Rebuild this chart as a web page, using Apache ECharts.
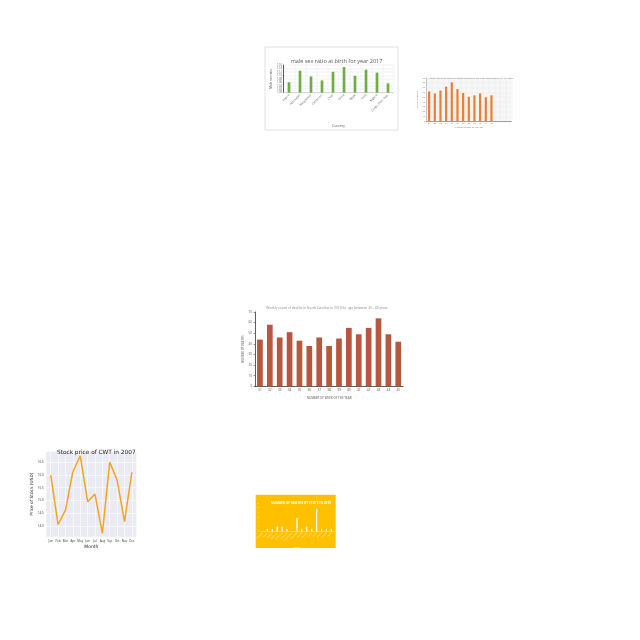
<!DOCTYPE html>
<html>
<head>
<meta charset="utf-8">
<script src="https://cdn.jsdelivr.net/npm/echarts@6/dist/echarts.min.js"></script>
<style>
  html, body { margin: 0; padding: 0; background: #fff; }
  #main { width: 640px; height: 640px; }
</style>
</head>
<body>
<div id="main"></div>
<script>
    // male sex ratio (top left panel)
    var sexCountries = ['Angola', 'Azerbaijan', 'Bangladesh', 'Cameroon', 'Chad', 'China', 'Egypt', 'India', 'Nigeria', 'Congo, Dem. Rep.'];
    var sexRatio = [1.060, 1.127, 1.094, 1.071, 1.121, 1.148, 1.098, 1.133, 1.116, 1.054];

    // weekly deaths, age 15 - 24 (top right panel)
    var youngWeeks = ['31', '32', '33', '34', '35', '36', '37', '38', '39', '40', '41', '42', '', '', ''];
    var youngDeaths = [62, 58, 64, 72, 81, 67, 59, 51, 54, 58, 50, 54];

    // weekly deaths, age 25 - 44 (middle panel)
    var weeks = ['31', '32', '33', '34', '35', '36', '37', '38', '39', '40', '41', '42', '43', '44', '45'];
    var deaths = [44, 58, 46, 51, 43, 38, 46, 38, 45, 55, 49, 55, 64, 49, 42];

    // stock price (bottom left panel)
    var months = ['Jan', 'Feb', 'Mar', 'Apr', 'May', 'Jun', 'Jul', 'Aug', 'Sep', 'Oct', 'Nov', 'Dec'];
    var price = [16.0, 14.05, 14.62, 16.13, 16.76, 14.95, 15.25, 13.70, 16.51, 15.80, 14.16, 16.11];
    var priceTicks = [14.0, 14.5, 15.0, 15.5, 16.0, 16.5];

    // yellow panel
    var groups = ['Alabama', 'Alaska', 'Arizona', 'Arkansas', 'California', 'Colorado', 'Connecticut', 'Delaware', 'Florida', 'Georgia', 'Hawaii', 'Idaho', 'Illinois', 'Indiana', 'Iowa'];
    var groupDeaths = [0, 1, 1, 2, 2, 1, 0, 5.6, 1, 2, 1, 9.6, 1, 1, 1];

    var myChart = echarts.init(document.getElementById('main'));

    var monthIdx = months.map(function (m, i) { return i; });
    var pricePoints = price.map(function (v, i) { return [i, v]; });

    option = {
        animation: false,
        backgroundColor: '#fff',
        textStyle: { fontFamily: 'Open Sans' },
        graphic: [
            { type: 'rect', z: -10, shape: { x: 265, y: 47, width: 133, height: 83 },
              style: { fill: '#fff', stroke: '#d9d9d9', lineWidth: 0.8 } },
            { type: 'rect', z: -10, shape: { x: 255.7, y: 494.7, width: 80, height: 53.3 },
              style: { fill: '#ffc000' } }
        ],
        title: [
            { text: 'male sex ratio at birth for year 2017', left: 331.5, top: 53, textAlign: 'center',
              textStyle: { fontSize: 5.5, fontWeight: 'normal', color: '#595959' } },
            { text: 'Weekly count of deaths in South Carolina in 2019 for age between 15 - 24 years', left: 466, top: 72, textAlign: 'center',
              textStyle: { fontSize: 2.3, fontWeight: 'normal', color: '#888' } },
            { text: 'Weekly count of deaths in South Carolina in 2019 for age between 25 - 44 years', left: 322, top: 302, textAlign: 'center',
              textStyle: { fontSize: 3.3, fontWeight: 'normal', color: '#888' } },
            { text: 'Stock price of CWT in 2007', left: 91.3, top: 444, textAlign: 'center',
              textStyle: { fontSize: 5.8, fontWeight: 'normal', color: '#222', fontFamily: 'DejaVu Sans' } },
            { text: 'NUMBER OF DEATHS BY STATE IN 2019', left: 296, top: 497, textAlign: 'center',
              textStyle: { fontSize: 3.2, fontWeight: 'bold', color: '#fff' } }
        ],
        grid: [
            { left: 283.5, top: 65, width: 110, height: 27.7 },
            { left: 426.3, top: 78, width: 85, height: 43.3, show: true, backgroundColor: '#f7f7f7', borderWidth: 0 },
            { left: 255, top: 312, width: 148.2, height: 74.3 },
            { left: 46.3, top: 451.7, width: 90, height: 85, show: true, backgroundColor: '#eaeaf2', borderWidth: 0 },
            { left: 260, top: 503, width: 73.8, height: 28.3 }
        ],
        xAxis: [
            { gridIndex: 0, type: 'category', data: sexCountries,
              name: 'Country', nameLocation: 'middle', nameGap: 31,
              nameTextStyle: { fontSize: 3.5, color: '#595959' },
              axisLine: { lineStyle: { color: '#bfbfbf', width: 0.6 } },
              axisTick: { show: false },
              splitLine: { show: true, lineStyle: { color: '#e4e4e4', width: 0.4 } },
              axisLabel: { rotate: 45, fontSize: 2.8, color: '#595959', margin: 2, interval: 0 } },
            { gridIndex: 1, type: 'category', data: youngWeeks,
              name: 'Number of week of the year', nameLocation: 'middle', nameGap: 5,
              nameTextStyle: { fontSize: 2.2, color: '#777' },
              axisLine: { lineStyle: { color: '#666', width: 0.6 } },
              axisTick: { show: false },
              splitLine: { show: true, lineStyle: { color: '#e2e2e2', width: 0.4 } },
              axisLabel: { fontSize: 2, color: '#777', margin: 1.5, interval: 0 } },
            { gridIndex: 2, type: 'category', data: weeks,
              name: 'NUMBER OF WEEK OF THE YEAR', nameLocation: 'middle', nameGap: 10,
              nameTextStyle: { fontSize: 3, color: '#555' },
              axisLine: { lineStyle: { color: '#333', width: 0.8 } },
              axisTick: { show: false },
              axisLabel: { fontSize: 3.2, color: '#555', margin: 2.5, interval: 0 } },
            { gridIndex: 3, type: 'value', min: -0.6, max: 11.6,
              name: 'Month', nameLocation: 'middle', nameGap: 8,
              nameTextStyle: { fontSize: 4.5, color: '#222', fontFamily: 'DejaVu Sans' },
              axisLine: { show: false },
              axisTick: { show: false, customValues: monthIdx },
              splitLine: { show: true, lineStyle: { color: '#fff', width: 0.6 } },
              axisLabel: { customValues: monthIdx, fontSize: 3, color: '#333', margin: 2.5,
                           formatter: function (v) { return months[Math.round(v)]; } } },
            { gridIndex: 4, type: 'category', data: groups,
              name: 'State', nameLocation: 'middle', nameGap: 14,
              nameTextStyle: { fontSize: 2.5, color: '#fff' },
              axisLine: { lineStyle: { color: '#fff5cc', width: 0.5 } },
              axisTick: { show: false },
              axisLabel: { rotate: 45, fontSize: 2, color: '#fff2b3', margin: 1.5, interval: 0 } }
        ],
        yAxis: [
            { gridIndex: 0, type: 'value', min: 1.0, max: 1.16, interval: 0.02,
              name: 'Male sex ratio', nameLocation: 'middle', nameGap: 10,
              nameTextStyle: { fontSize: 3, color: '#595959' },
              axisLine: { show: true, lineStyle: { color: '#333', width: 0.8 } },
              axisTick: { show: false },
              splitLine: { lineStyle: { color: '#d9d9d9', width: 0.4 } },
              axisLabel: { fontSize: 2.6, color: '#595959', margin: 1.5,
                           formatter: function (v) { return v.toFixed(2); } } },
            { gridIndex: 1, type: 'value', min: 0, max: 90, interval: 10,
              name: 'Number of deaths', nameLocation: 'middle', nameGap: 6,
              nameTextStyle: { fontSize: 2.2, color: '#777' },
              axisLine: { show: true, lineStyle: { color: '#999', width: 0.5 } },
              axisTick: { show: false },
              splitLine: { lineStyle: { color: '#e2e2e2', width: 0.4 } },
              axisLabel: { fontSize: 2, color: '#777', margin: 1.5 } },
            { gridIndex: 2, type: 'value', min: 0, max: 70, interval: 10,
              name: 'NUMBER OF DEATHS', nameLocation: 'middle', nameGap: 10,
              nameTextStyle: { fontSize: 2.8, color: '#555' },
              axisLine: { show: true, lineStyle: { color: '#333', width: 0.8 } },
              axisTick: { show: true, length: 1.5, lineStyle: { color: '#333', width: 0.5 } },
              splitLine: { show: false },
              axisLabel: { fontSize: 3, color: '#555', margin: 3 } },
            { gridIndex: 3, type: 'value', min: 13.57, max: 16.92,
              name: 'Price of Stock (USD)', nameLocation: 'middle', nameGap: 11,
              nameTextStyle: { fontSize: 4.3, color: '#222', fontFamily: 'DejaVu Sans' },
              axisLine: { show: false },
              axisTick: { show: false, customValues: priceTicks },
              splitLine: { show: true, lineStyle: { color: '#fff', width: 0.6 } },
              axisLabel: { customValues: priceTicks, fontSize: 3, color: '#333', margin: 2.5,
                           formatter: function (v) { return v.toFixed(1); } } },
            { gridIndex: 4, type: 'value', min: 0, max: 12, interval: 2,
              name: 'Number of deaths', nameLocation: 'middle', nameGap: 3,
              nameTextStyle: { fontSize: 2, color: '#fff2b3' },
              axisLine: { show: false },
              axisTick: { show: false },
              splitLine: { show: false },
              axisLabel: { fontSize: 1.8, color: '#fff2b3', margin: 1 } }
        ],
        series: [
            { type: 'bar', xAxisIndex: 0, yAxisIndex: 0, data: sexRatio, barWidth: 2.7,
              itemStyle: { color: '#70ad47' } },
            { type: 'bar', xAxisIndex: 1, yAxisIndex: 1, data: youngDeaths, barWidth: 2.2,
              itemStyle: { color: '#ed7d31' } },
            { type: 'bar', xAxisIndex: 2, yAxisIndex: 2, data: deaths, barWidth: 5.7,
              itemStyle: { color: '#b5583f' } },
            { type: 'line', xAxisIndex: 3, yAxisIndex: 3, data: pricePoints, symbol: 'none',
              lineStyle: { color: '#f2a51f', width: 1.5 } },
            { type: 'bar', xAxisIndex: 4, yAxisIndex: 4, data: groupDeaths, barWidth: 1.2,
              itemStyle: { color: '#fff' } }
        ]
    };
    myChart.setOption(option);
</script>
</body>
</html>
